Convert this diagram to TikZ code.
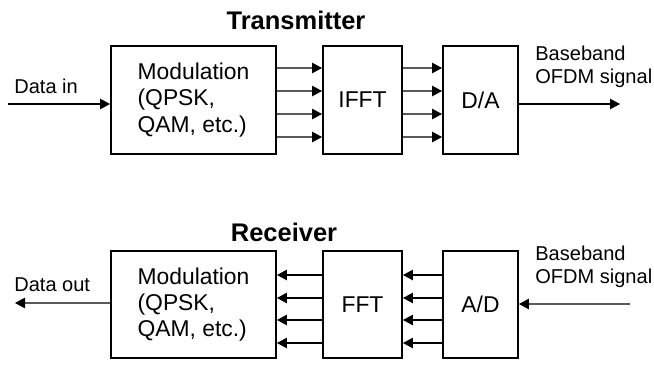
\documentclass[tikz,border=0pt]{standalone}
\usepackage{fontspec}
\setmainfont{Liberation Sans}
\usepackage{tikz}
\usetikzlibrary{positioning, arrows.meta}
\tikzset{
	blockbox/.style={draw, line width=1.1pt, inner sep=0pt, minimum height=2.15cm, align=left, font=\fontsize{13}{15}\selectfont}
}
\tikzset{
	smalltext/.style={font=\fontsize{11.4}{13}\selectfont}
}
\tikzset{
	titletext/.style={font=\fontsize{14.5}{17}\selectfont\bfseries}
}
\tikzset{
	busline/.style={draw=black!65, line width=0.6pt}
}

\begin{document}
\begin{tikzpicture}[>={Triangle[length=2mm, width=2.1mm, color=black]}]
      \useasboundingbox (0,0) rectangle (13.08,-7.30);
      % transmitter
      \node[titletext] (ttx) at (5.92,-0.40) {Transmitter};
      \node[blockbox, minimum width=3.30cm] (mt) at (3.87,-2.00) {Modulation\\(QPSK,\\QAM, etc.)};
      \node[blockbox, minimum width=1.58cm, align=center] (ifft) at (7.25,-2.00) {IFFT};
      \node[blockbox, minimum width=1.50cm, align=center] (da) at (9.61,-2.00) {D/A};
      \coordinate (din) at (0.16,-2.08);
      \coordinate (dout) at (12.40,-2.08);
      \node[smalltext, anchor=west, inner sep=0pt] (lin) at (0.28,-1.72) {Data in};
      \node[smalltext, anchor=west, inner sep=0pt, align=left] (lbt) at (10.70,-1.33) {Baseband\\OFDM signal};
      \draw[line width=0.7pt, ->] (din) -- (mt.west |- din);
      \draw[line width=0.7pt, ->] (da.east |- dout) -- (dout);
      \foreach \y in {-1.36,-1.82,-2.28,-2.74} {
        \draw[busline, ->] (mt.east |- 0,\y) -- (ifft.west |- 0,\y);
        \draw[busline, ->] (ifft.east |- 0,\y) -- (da.west |- 0,\y);
      }
      % receiver
      \node[titletext] (trx) at (5.68,-4.64) {Receiver};
      \node[blockbox, minimum width=3.30cm] (mr) at (3.87,-6.09) {Modulation\\(QPSK,\\QAM, etc.)};
      \node[blockbox, minimum width=1.58cm, align=center] (fft) at (7.25,-6.09) {FFT};
      \node[blockbox, minimum width=1.50cm, align=center] (ad) at (9.61,-6.09) {A/D};
      \coordinate (rin) at (12.60,-6.08);
      \coordinate (rout) at (0.30,-6.06);
      \node[smalltext, anchor=west, inner sep=0pt] (lout) at (0.28,-5.70) {Data out};
      \node[smalltext, anchor=west, inner sep=0pt, align=left] (lbr) at (10.70,-5.33) {Baseband\\OFDM signal};
      \draw[busline, line width=0.7pt, ->] (rin) -- (ad.east |- rin);
      \draw[busline, line width=0.7pt, ->] (mr.west |- rout) -- (rout);
      \foreach \y in {-5.50,-5.96,-6.40,-6.86} {
        \draw[line width=0.6pt, ->] (ad.west |- 0,\y) -- (fft.east |- 0,\y);
        \draw[line width=0.6pt, ->] (fft.west |- 0,\y) -- (mr.east |- 0,\y);
      }
\end{tikzpicture}
\end{document}
